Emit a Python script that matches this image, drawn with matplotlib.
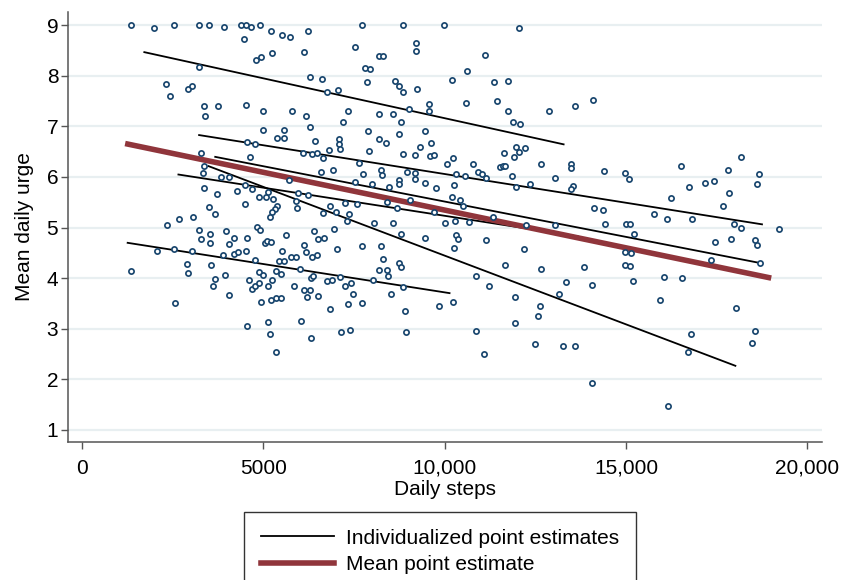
import matplotlib
matplotlib.use("Agg")
import matplotlib.pyplot as plt
from matplotlib.lines import Line2D
from matplotlib.ticker import FuncFormatter

# ---------------- data ----------------
steps = [
    1350, 1990, 2525, 3230, 3490, 3910, 4390, 4530, 4650, 4910, 5210, 5520, 5740, 6235, 4465,
    4795, 4940, 5225, 6125, 3215, 2305, 2415, 2930, 3020, 6290, 6620, 3350, 3745, 4520, 4995,
    3400, 5795, 6160, 4985, 5565, 6280, 5360, 5575, 6420, 4535, 4765, 3280, 4630, 6100, 6345,
    6485, 6650, 6815, 3350, 3325, 3840, 4050, 6585, 5690, 3360, 3730, 4260, 4480, 4690, 4875,
    5070, 5270, 5115, 5940, 6225, 5895, 3500, 3675, 4480, 5370, 5305, 5240, 5170, 5915, 2670,
    3065, 6650,
    2340, 3215, 3525, 3965, 3270, 3525, 4190, 4040, 4555, 4820, 4905, 5630, 6400, 6495, 6660,
    5050, 5105, 5200, 6110, 2065, 2545, 3020, 3895, 4190, 4305, 4520, 5500, 6165, 5760, 5885,
    6325, 6475, 3545, 2900, 4760, 5425, 5565, 6015, 1340, 2930, 3950, 4870, 4980, 5335, 5480,
    3655, 3620, 4610, 4685, 4765, 4870, 5125, 5235, 5850, 6300, 6375, 6740, 6110, 6290, 6200,
    6510, 4060, 2560, 4940, 5200, 5355, 5490, 4535, 5115, 5170, 6035, 6300, 5345, 6830,
    7730, 8835, 9965, 12050, 7530, 9210, 9210, 8175, 8300, 11095, 7790, 7935, 10600, 7860, 8615,
    8725, 8835, 9230, 10200, 11350, 11735, 11450, 10580, 7060, 6740, 7320, 7200, 8190, 8575, 8780,
    9015, 9575, 9575, 11735, 11885, 12085, 12885, 7880, 8725, 8190, 8375, 9465, 7090, 7090, 7115,
    7915, 9320, 9615, 8850, 9180, 9595, 9690, 10055, 10220, 10790, 7620, 6925, 7750, 8230, 8280,
    8945, 9165, 9165, 8725, 8725, 10310, 10550, 10920, 11030, 11140, 11525, 11600, 11670, 11950,
    12040, 12210, 11920, 11625, 12645, 13040, 11845, 11955, 12360, 7510, 8005, 8450, 9465, 9745,
    10240, 10185, 10420, 10515, 7575, 8395, 8685, 9035, 9705, 6830, 7245, 6990, 7365, 11340,
    13580, 14095, 13490, 13490, 13535, 13490, 14390, 14980, 15070, 16500, 18175, 17805, 18670,
    18615, 16720, 17180, 17420, 17825, 16225, 14115, 14355, 15765, 16135, 16815, 17680,
    7305, 6940, 7035, 7730, 8230, 8045, 8575, 8780, 9465, 10000, 10275, 10310, 10350, 10240,
    11145, 12175, 11670, 12645, 13340, 13140, 12225, 13030, 8300, 8175, 8395, 8430, 8725, 8780,
    8025, 8850, 8520, 7715, 7475, 7330, 7400, 7240, 7110, 6880, 7125, 7385, 8915, 8935, 9845,
    10230, 10870, 11210, 11935, 12625, 12570, 11935, 10870, 11090, 12480, 13270, 10680,
    14430, 15000, 15100, 15215, 14970, 15125, 14970, 15105, 15190, 13840, 14060, 16035, 16530,
    15925, 17960, 18155, 17900, 17440, 17345, 18560, 18595, 18680, 19210, 18025, 18560, 18475,
    16795, 16705, 13600, 14070, 16150,
]
urge = [
    9.00, 8.95, 9.00, 9.00, 9.00, 8.97, 9.00, 9.00, 8.97, 9.00, 8.89, 8.80, 8.77, 8.88, 8.73,
    8.32, 8.37, 8.45, 8.47, 8.18, 7.84, 7.59, 7.73, 7.79, 7.98, 7.93, 7.41, 7.41, 7.43, 7.31,
    7.21, 7.30, 7.20, 6.93, 6.93, 6.98, 6.77, 6.77, 6.71, 6.69, 6.65, 6.48, 6.39, 6.48, 6.45,
    6.48, 6.38, 6.53, 6.22, 6.08, 6.00, 6.00, 6.10, 5.94, 5.79, 5.67, 5.73, 5.85, 5.77, 5.61,
    5.60, 5.56, 5.71, 5.69, 5.65, 5.53, 5.40, 5.26, 5.47, 5.42, 5.36, 5.30, 5.20, 5.38, 5.17,
    5.20, 5.28,
    5.05, 4.95, 4.88, 4.94, 4.78, 4.70, 4.79, 4.67, 4.80, 5.01, 4.95, 4.85, 4.94, 4.78, 4.80,
    4.70, 4.73, 4.72, 4.65, 4.54, 4.58, 4.54, 4.46, 4.48, 4.51, 4.54, 4.53, 4.51, 4.42, 4.42,
    4.42, 4.45, 4.26, 4.28, 4.35, 4.33, 4.33, 4.18, 4.14, 4.10, 4.07, 4.13, 4.06, 4.14, 4.08,
    3.99, 3.84, 3.96, 3.78, 3.84, 3.91, 3.84, 3.96, 3.85, 4.00, 4.04, 3.94, 3.76, 3.76, 3.62,
    3.65, 3.67, 3.51, 3.52, 3.57, 3.60, 3.60, 3.05, 3.14, 2.90, 3.15, 2.81, 2.53, 3.38,
    9.00, 9.00, 9.00, 8.94, 8.57, 8.65, 8.48, 8.39, 8.39, 8.41, 8.16, 8.14, 8.10, 7.87, 7.90,
    7.79, 7.68, 7.74, 7.91, 7.87, 7.90, 7.51, 7.47, 7.72, 7.68, 7.31, 7.08, 7.25, 7.25, 7.08,
    7.35, 7.44, 7.30, 7.31, 7.09, 7.04, 7.30, 6.91, 6.85, 6.75, 6.68, 6.91, 6.75, 6.65, 6.55,
    6.52, 6.59, 6.67, 6.46, 6.44, 6.42, 6.43, 6.25, 6.37, 6.25, 6.27, 6.13, 6.06, 6.13, 6.04,
    6.10, 6.08, 5.96, 5.93, 5.86, 6.05, 6.02, 6.09, 6.05, 5.98, 6.19, 6.22, 6.22, 6.60,
    6.50, 6.58, 6.40, 6.48, 6.25, 5.97, 6.01, 5.81, 5.86, 5.90, 5.86, 5.81, 5.88, 5.78,
    5.85, 5.60, 5.55, 5.42, 5.46, 5.51, 5.39, 5.55, 5.30, 5.43, 5.48, 5.31, 5.26, 5.20,
    7.41, 7.52, 6.25, 6.18, 5.83, 5.77, 6.12, 6.08, 5.96, 6.22, 6.39, 6.13, 6.05,
    5.86, 5.80, 5.88, 5.92, 5.68, 5.59, 5.39, 5.34, 5.27, 5.17, 5.17, 5.43,
    5.13, 4.97, 4.58, 4.63, 4.63, 5.09, 5.08, 4.87, 4.79, 5.09, 5.13, 4.86, 4.77, 4.59,
    4.75, 4.58, 4.26, 4.18, 3.92, 3.68, 5.05, 5.05, 4.38, 4.16, 4.16, 4.04, 4.29, 4.21,
    3.97, 3.82, 3.69, 3.51, 3.69, 3.49, 3.90, 3.85, 4.03, 3.96, 2.94, 2.98, 3.35, 2.94, 3.44,
    3.53, 4.04, 3.84, 3.62, 3.44, 3.25, 3.12, 2.95, 2.49, 2.69, 2.65, 5.11,
    5.07, 5.06, 5.07, 4.88, 4.51, 4.50, 4.26, 4.24, 3.94, 4.22, 3.86, 4.03, 4.00,
    3.57, 5.07, 5.00, 4.78, 4.71, 4.36, 4.75, 4.66, 4.30, 4.97, 3.41, 2.95, 2.71,
    2.90, 2.54, 2.65, 1.92, 1.48,
]

# individualized regression lines (start / end in data units)
ind_x0 = [1690, 3200, 3645, 3460, 1230, 2630]
ind_y0 = [8.47, 6.83, 6.40, 6.22, 4.70, 6.05]
ind_x1 = [13300, 18770, 18680, 18035, 10155, 13700]
ind_y1 = [6.64, 5.06, 4.30, 2.26, 3.70, 4.82]

# mean line
mean_x = [1185, 19000]
mean_y = [6.66, 4.00]

x_ticks = [0, 5000, 10000, 15000, 20000]
y_ticks = [1, 2, 3, 4, 5, 6, 7, 8, 9]

# ---------------- style ----------------
plt.rcParams['font.family'] = ['Liberation Sans Narrow', 'Liberation Sans', 'DejaVu Sans']
NAVY = '#1a476f'
MAROON = '#90353b'
GRID = '#e8eff1'
AXC = '#555555'
FS = 15

fig = plt.figure(figsize=(8.42, 5.80), dpi=100)
ax = fig.add_axes([68 / 842, 1 - 442 / 580, (822 - 68) / 842, (442 - 12) / 580])

for yv in y_ticks:
    ax.axhline(yv, color=GRID, lw=1.6, zorder=0)

for x0, y0, x1, y1 in zip(ind_x0, ind_y0, ind_x1, ind_y1):
    ax.plot([x0, x1], [y0, y1], color='black', lw=1.3, zorder=2, solid_capstyle='butt')

ax.plot(mean_x, mean_y, color=MAROON, lw=4.0, zorder=3, solid_capstyle='butt')

ax.scatter(steps, urge, s=14, facecolors='white', edgecolors=NAVY, linewidths=1.25, zorder=4)

ax.set_xlim(-390, 20400)
ax.set_ylim(0.76, 9.26)
ax.set_xticks(x_ticks)
ax.set_yticks(y_ticks)
ax.xaxis.set_major_formatter(FuncFormatter(lambda v, p: f"{int(v)}" if v < 10000 else f"{int(v):,}"))

for s in ['top', 'right']:
    ax.spines[s].set_visible(False)
for s in ['left', 'bottom']:
    ax.spines[s].set_color(AXC)
    ax.spines[s].set_linewidth(1.1)
ax.tick_params(axis='both', colors=AXC, labelcolor='black', length=5, width=1.0, labelsize=FS)
ax.tick_params(axis='y', pad=2)
ax.tick_params(axis='x', pad=7)

ax.set_xlabel('Daily steps', fontsize=FS, labelpad=2)
ax.set_ylabel('Mean daily urge', fontsize=FS, labelpad=9)

handles = [Line2D([0], [0], color='black', lw=1.3),
           Line2D([0], [0], color=MAROON, lw=4.0)]
leg = fig.legend(handles, ['Individualized point estimates', 'Mean point estimate'],
                 loc='upper left', bbox_to_anchor=(244 / 842, 1 - 512 / 580),
                 bbox_transform=fig.transFigure, borderaxespad=0,
                 fontsize=FS, handlelength=3.5, handletextpad=0.6,
                 borderpad=0.8, labelspacing=0.35, fancybox=False, framealpha=1)
leg.get_frame().set_edgecolor('#333333')
leg.get_frame().set_linewidth(1.0)

fig.savefig('out.png', dpi=100)
